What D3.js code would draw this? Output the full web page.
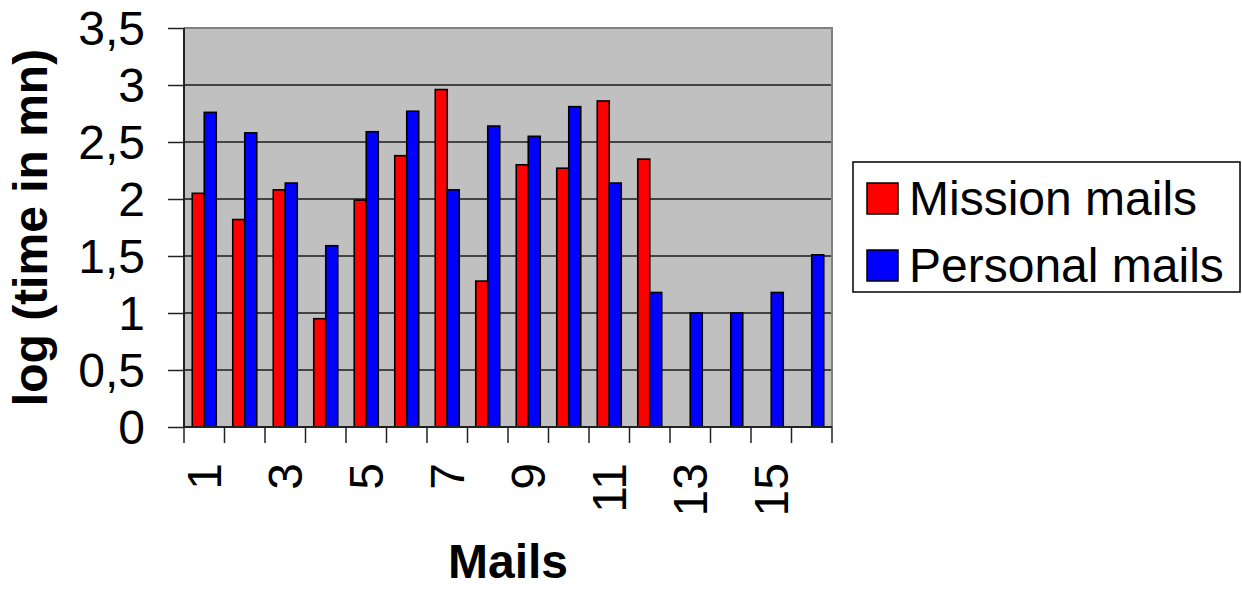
<!DOCTYPE html>
<html>
<head>
<meta charset="utf-8">
<script src="https://cdn.jsdelivr.net/npm/d3@7"></script>
<style>
  html, body { margin: 0; padding: 0; background: #fff; }
  svg { display: block; }
  text { font-family: "Liberation Sans", Arial, sans-serif; fill: #000; }
</style>
</head>
<body>
<svg id="chart" width="1242" height="589"></svg>
<script>
const categories = ["1","2","3","4","5","6","7","8","9","10","11","12","13","14","15","16"];
const seriesNames = ["Mission mails", "Personal mails"];
const missionValues = [2.05, 1.82, 2.08, 0.95, 1.99, 2.38, 2.96, 1.28, 2.30, 2.27, 2.86, 2.35, null, null, null, null];
const personalValues = [2.76, 2.58, 2.14, 1.59, 2.59, 2.77, 2.08, 2.64, 2.55, 2.81, 2.14, 1.18, 1.00, 1.00, 1.18, 1.51];
const yTicks = [0, 0.5, 1, 1.5, 2, 2.5, 3, 3.5];
const xTickLabels = ["1","3","5","7","9","11","13","15"];
const colors = ["#FF0000", "#0000FF"];

const svg = d3.select("#chart");
const pL = 184, pR = 832, pT = 28, pB = 427;

const x0 = d3.scaleBand().domain(categories).range([pL, pR]).padding(0);
const x1 = d3.scaleBand().domain(seriesNames).range([0, x0.bandwidth()]).paddingInner(0).paddingOuter(0.6875);
const y = d3.scaleLinear().domain([0, 3.5]).range([pB, pT]);
const fmt = v => String(v).replace(".", ",");

// plot background
svg.append("rect").attr("x", pL).attr("y", pT)
  .attr("width", pR - pL).attr("height", pB - pT)
  .attr("fill", "#C0C0C0");

// gridlines
svg.append("g").selectAll("line").data(yTicks.filter(v => v > 0 && v < 3.5)).join("line")
  .attr("x1", pL).attr("x2", pR)
  .attr("y1", d => y(d)).attr("y2", d => y(d))
  .attr("stroke", "#1a1a1a").attr("stroke-width", 1.3);

// plot border top / right
svg.append("path")
  .attr("d", `M${pL},${pT}H${pR}V${pB}`)
  .attr("fill", "none").attr("stroke", "#808080").attr("stroke-width", 2);

// bars
const data = categories.map((c, i) => ({ cat: c, vals: [missionValues[i], personalValues[i]] }));
const groups = svg.append("g").selectAll("g").data(data).join("g")
  .attr("transform", d => `translate(${x0(d.cat)},0)`);
groups.selectAll("rect")
  .data(d => d.vals.map((v, k) => ({ name: seriesNames[k], v, k })).filter(e => e.v != null))
  .join("rect")
  .attr("x", e => x1(e.name))
  .attr("width", x1.bandwidth())
  .attr("y", e => y(e.v))
  .attr("height", e => y(0) - y(e.v))
  .attr("fill", e => colors[e.k])
  .attr("stroke", "#000").attr("stroke-width", 1.6);

// y axis
const yAxis = d3.axisLeft(y).tickValues(yTicks).tickSize(16).tickPadding(23).tickFormat(fmt);
const gy = svg.append("g").attr("transform", `translate(${pL},0)`).call(yAxis);
gy.select(".domain").attr("stroke", "#222").attr("stroke-width", 2).attr("d", `M0,${pT}V${pB}`);
gy.selectAll(".tick line").attr("stroke", "#222").attr("stroke-width", 1.5);
gy.selectAll(".tick text").attr("font-size", 48).attr("dy", "0.35em")
  .style("font-family", '"Liberation Sans", Arial, sans-serif');

// x axis with boundary ticks
const xAxis = d3.axisBottom(x0).tickSize(0).tickFormat("");
const gx = svg.append("g").attr("transform", `translate(0,${pB})`).call(xAxis);
gx.select(".domain").attr("stroke", "#222").attr("stroke-width", 2).attr("d", `M${pL},0H${pR}`);
gx.selectAll(".tick").remove();
const boundaries = categories.map(c => x0(c)).concat([x0(categories[categories.length - 1]) + x0.bandwidth()]);
gx.selectAll("line.bnd").data(boundaries).join("line").attr("class", "bnd")
  .attr("x1", d => d).attr("x2", d => d).attr("y1", 0).attr("y2", 16)
  .attr("stroke", "#222").attr("stroke-width", 1.5);
gx.selectAll("text.xl").data(xTickLabels).join("text").attr("class", "xl")
  .attr("transform", d => `translate(${x0(d) + x0.bandwidth() / 2 + 17},${463 - pB}) rotate(-90)`)
  .attr("text-anchor", "end")
  .attr("font-size", 48)
  .text(d => d);

// axis titles
svg.append("text")
  .attr("transform", `translate(47,${(pT + pB) / 2}) rotate(-90)`)
  .attr("text-anchor", "middle").attr("font-size", 48).attr("font-weight", "bold")
  .text("log (time in mn)");
svg.append("text")
  .attr("x", (pL + pR) / 2).attr("y", 578)
  .attr("text-anchor", "middle").attr("font-size", 48).attr("font-weight", "bold")
  .text("Mails");

// legend
const lg = svg.append("g");
lg.append("rect").attr("x", 853).attr("y", 162).attr("width", 387).attr("height", 130)
  .attr("fill", "#fff").attr("stroke", "#000").attr("stroke-width", 1.5);
const items = lg.selectAll("g").data(seriesNames).join("g")
  .attr("transform", (d, i) => `translate(867,${183 + i * 67})`);
items.append("rect").attr("width", 31).attr("height", 31)
  .attr("fill", (d, i) => colors[i]).attr("stroke", "#000").attr("stroke-width", 1.5);
items.append("text").attr("x", 42).attr("y", 32).attr("font-size", 48).text(d => d);
</script>
</body>
</html>
